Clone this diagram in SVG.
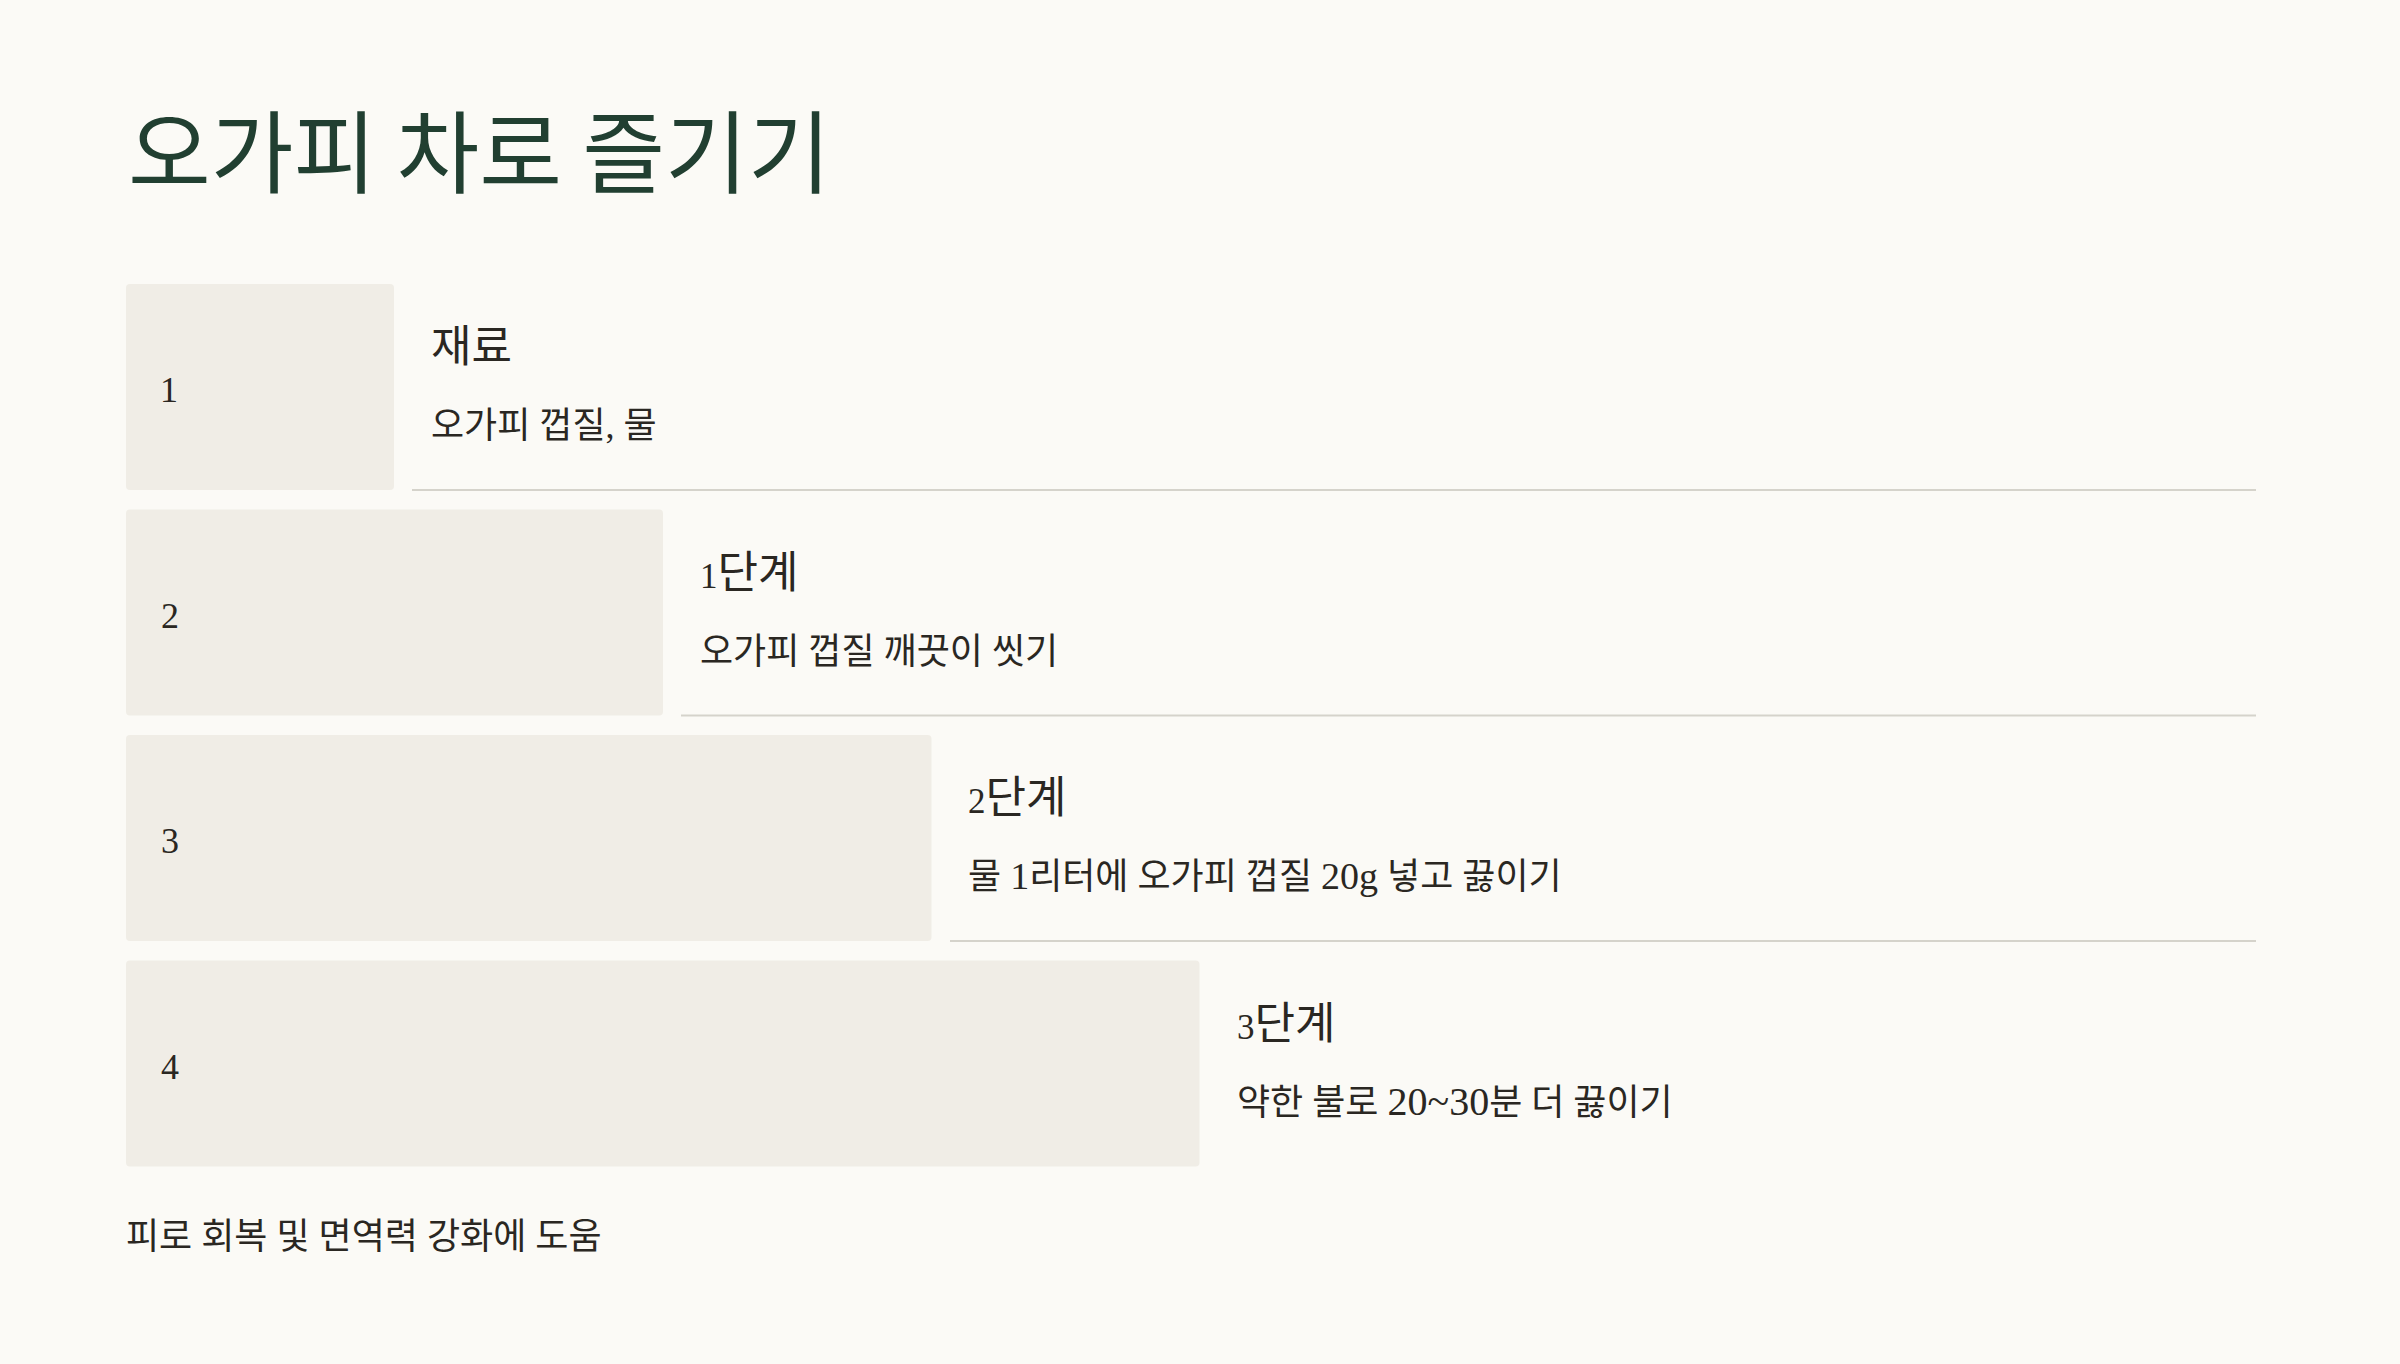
<svg xmlns="http://www.w3.org/2000/svg" width="2400" height="1364" viewBox="0 0 2400 1364">
  <style>
    .bg { fill: #fbfaf6; }
    .box { fill: #f0ede6; }
    .sep { stroke: #d5d3cb; stroke-width: 2; }
    .title { font-family: "Noto Sans CJK KR", "Noto Sans", sans-serif; font-size: 90px; fill: #213f31; }
    .num { font-family: "Liberation Serif", "Noto Sans CJK KR", serif; font-size: 36px; fill: #2a2722; }
    .head { font-family: "Liberation Serif", "Noto Sans CJK KR", sans-serif; font-size: 44px; fill: #2a2722; }
    .desc { font-family: "Liberation Serif", "Noto Sans CJK KR", sans-serif; font-size: 36px; fill: #2a2722; }
    .od { font-size: 35px; }
    .dg { font-size: 38px; }
    .dg2 { font-size: 40px; }
  </style>
  <rect class="bg" x="0" y="0" width="2400" height="1364"/>

  <g id="title">
    <text class="title" x="128" y="186">오가피 차로 즐기기</text>
  </g>

  <g id="connectors">
    <line class="sep" x1="412" y1="490" x2="2256" y2="490"/>
    <line class="sep" x1="681" y1="715.5" x2="2256" y2="715.5"/>
    <line class="sep" x1="950" y1="941" x2="2256" y2="941"/>
  </g>

  <g id="step1">
    <rect class="box" x="126" y="284" width="268" height="206" rx="4"/>
    <text class="num" x="160" y="402">1</text>
    <text class="head" x="431" y="362">재료</text>
    <text class="desc" x="431" y="438">오가피 껍질, 물</text>
  </g>

  <g id="step2">
    <rect class="box" x="126" y="509.5" width="537" height="206" rx="4"/>
    <text class="num" x="161" y="627.5">2</text>
    <text class="head" x="700" y="587.5"><tspan class="od">1</tspan>단계</text>
    <text class="desc" x="700" y="663.5">오가피 껍질 깨끗이 씻기</text>
  </g>

  <g id="step3">
    <rect class="box" x="126" y="735" width="805.5" height="206" rx="4"/>
    <text class="num" x="161" y="853">3</text>
    <text class="head" x="968" y="813"><tspan class="od">2</tspan>단계</text>
    <text class="desc" x="968" y="889">물 <tspan class="dg">1</tspan>리터에 오가피 껍질 <tspan class="dg">20g</tspan> 넣고 끓이기</text>
  </g>

  <g id="step4">
    <rect class="box" x="126" y="960.5" width="1073.5" height="206" rx="4"/>
    <text class="num" x="161" y="1078.5">4</text>
    <text class="head" x="1237" y="1038.5"><tspan class="od">3</tspan>단계</text>
    <text class="desc" x="1237" y="1114.5">약한 불로 <tspan class="dg2">20~30</tspan>분 더 끓이기</text>
  </g>

  <g id="note">
    <text class="desc" x="126" y="1249">피로 회복 및 면역력 강화에 도움</text>
  </g>
</svg>
